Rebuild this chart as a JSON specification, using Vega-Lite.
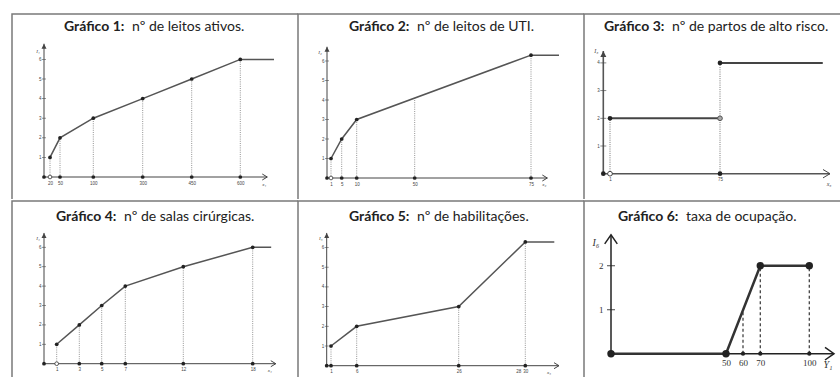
{
"$schema": "https://vega.github.io/schema/vega-lite/v6.json",
"padding": {"left": 11, "top": 13, "right": 0, "bottom": 0},
"background": "white",
"spacing": 0,
"config": {
  "view": {"stroke": "#7a7a7a", "strokeWidth": 1.5},
  "axis": {"domain": false, "ticks": false, "grid": false, "labelFont": "Liberation Sans", "labelFontSize": 4.5, "labelColor": "#444", "labelOverlap": false, "labelFlush": false, "labelPadding": 3},
  "title": {"font": "Lato", "fontSize": 14, "fontWeight": "bold", "color": "#222", "anchor": "start", "frame": "group", "align": "left", "subtitleFont": "Lato", "subtitleFontSize": 14, "subtitleFontWeight": "normal", "subtitleColor": "#222", "subtitlePadding": -13.5}
},
"datasets": {
  "p1": [
    {"k":"ax","x":0,"x2":680,"y":0,"y2":0},{"k":"ax","x":0,"x2":0,"y":0,"y2":6.8},
    {"k":"drop","x":20,"x2":20,"y":0,"y2":1},{"k":"drop","x":50,"x2":50,"y":0,"y2":2},{"k":"drop","x":100,"x2":100,"y":0,"y2":3},{"k":"drop","x":300,"x2":300,"y":0,"y2":4},{"k":"drop","x":450,"x2":450,"y":0,"y2":5},{"k":"drop","x":600,"x2":600,"y":0,"y2":6},
    {"k":"ln","g":1,"x":20,"y":1},{"k":"ln","g":1,"x":50,"y":2},{"k":"ln","g":1,"x":100,"y":3},{"k":"ln","g":1,"x":300,"y":4},{"k":"ln","g":1,"x":450,"y":5},{"k":"ln","g":1,"x":600,"y":6},{"k":"ln","g":1,"x":700,"y":6},
    {"k":"pt","x":20,"y":1},{"k":"pt","x":50,"y":2},{"k":"pt","x":100,"y":3},{"k":"pt","x":300,"y":4},{"k":"pt","x":450,"y":5},{"k":"pt","x":600,"y":6},
    {"k":"ad","x":0,"y":0},{"k":"ad","x":50,"y":0},{"k":"ad","x":100,"y":0},{"k":"ad","x":300,"y":0},{"k":"ad","x":450,"y":0},{"k":"ad","x":600,"y":0},
    {"k":"ao","x":20,"y":0},
    {"k":"yt","x":0,"y":1},{"k":"yt","x":0,"y":2},{"k":"yt","x":0,"y":3},{"k":"yt","x":0,"y":4},{"k":"yt","x":0,"y":5},{"k":"yt","x":0,"y":6},
    {"k":"arx","x":680,"y":0},{"k":"ary","x":0,"y":6.8},
    {"k":"nx","x":680,"y":0,"t":"x₁"},{"k":"ny","x":0,"y":6.8,"t":"I₁"}
  ],
  "p2": [
    {"k":"ax","x":0,"x2":78.5,"y":0,"y2":0},{"k":"ax","x":0,"x2":0,"y":0,"y2":6.73},
    {"k":"drop","x":1,"x2":1,"y":0,"y2":1},{"k":"drop","x":5,"x2":5,"y":0,"y2":2},{"k":"drop","x":10,"x2":10,"y":0,"y2":3},{"k":"drop","x":50,"x2":50,"y":0,"y2":4.1},{"k":"drop","x":75,"x2":75,"y":0,"y2":6.3},
    {"k":"ln","g":1,"x":1,"y":1},{"k":"ln","g":1,"x":5,"y":2},{"k":"ln","g":1,"x":10,"y":3},{"k":"ln","g":1,"x":75,"y":6.3},{"k":"ln","g":1,"x":81,"y":6.3},
    {"k":"pt","x":1,"y":1},{"k":"pt","x":5,"y":2},{"k":"pt","x":10,"y":3},{"k":"pt","x":75,"y":6.3},
    {"k":"ad","x":0,"y":0},{"k":"ad","x":5,"y":0},{"k":"ad","x":10,"y":0},{"k":"ad","x":50,"y":0},{"k":"ad","x":75,"y":0},
    {"k":"ao","x":1,"y":0},
    {"k":"yt","x":0,"y":1},{"k":"yt","x":0,"y":2},{"k":"yt","x":0,"y":3},{"k":"yt","x":0,"y":4},{"k":"yt","x":0,"y":5},{"k":"yt","x":0,"y":6},
    {"k":"arx","x":78.5,"y":0},{"k":"ary","x":0,"y":6.73},
    {"k":"nx","x":78.5,"y":0,"t":"x₂"},{"k":"ny","x":0,"y":6.73,"t":"I₂"}
  ],
  "p3": [
    {"k":"ax","x":0,"x2":145,"y":0,"y2":0},{"k":"ax","x":0,"x2":0,"y":0,"y2":4.43},
    {"k":"drop","x":1,"x2":1,"y":0,"y2":2},{"k":"drop","x":75,"x2":75,"y":0,"y2":4},
    {"k":"ln","g":1,"x":1,"y":2},{"k":"ln","g":1,"x":75,"y":2},{"k":"ln","g":2,"x":75,"y":4},{"k":"ln","g":2,"x":140.4,"y":4},
    {"k":"pt","x":1,"y":2},{"k":"pt","x":75,"y":4},
    {"k":"ag","x":75,"y":2},
    {"k":"ad","x":0,"y":0},{"k":"ad","x":75,"y":0},
    {"k":"ao","x":1,"y":0},
    {"k":"yt","x":0,"y":1},{"k":"yt","x":0,"y":2},{"k":"yt","x":0,"y":3},{"k":"yt","x":0,"y":4},
    {"k":"arx","x":145,"y":0},{"k":"ary","x":0,"y":4.43},
    {"k":"nx","x":145,"y":0,"t":"x₃"},{"k":"ny","x":0,"y":4.43,"t":"I₃"}
  ],
  "p4": [
    {"k":"ax","x":0,"x2":20,"y":0,"y2":0},{"k":"ax","x":0,"x2":0,"y":0,"y2":6.74},
    {"k":"drop","x":1,"x2":1,"y":0,"y2":1},{"k":"drop","x":3,"x2":3,"y":0,"y2":2},{"k":"drop","x":5,"x2":5,"y":0,"y2":3},{"k":"drop","x":7,"x2":7,"y":0,"y2":4},{"k":"drop","x":12,"x2":12,"y":0,"y2":5},{"k":"drop","x":18,"x2":18,"y":0,"y2":6},
    {"k":"ln","g":1,"x":1,"y":1},{"k":"ln","g":1,"x":3,"y":2},{"k":"ln","g":1,"x":5,"y":3},{"k":"ln","g":1,"x":7,"y":4},{"k":"ln","g":1,"x":12,"y":5},{"k":"ln","g":1,"x":18,"y":6},{"k":"ln","g":1,"x":19.6,"y":6},
    {"k":"pt","x":1,"y":1},{"k":"pt","x":3,"y":2},{"k":"pt","x":5,"y":3},{"k":"pt","x":7,"y":4},{"k":"pt","x":12,"y":5},{"k":"pt","x":18,"y":6},
    {"k":"ad","x":0,"y":0},{"k":"ad","x":3,"y":0},{"k":"ad","x":5,"y":0},{"k":"ad","x":7,"y":0},{"k":"ad","x":12,"y":0},{"k":"ad","x":18,"y":0},
    {"k":"ao","x":1,"y":0},
    {"k":"yt","x":0,"y":1},{"k":"yt","x":0,"y":2},{"k":"yt","x":0,"y":3},{"k":"yt","x":0,"y":4},{"k":"yt","x":0,"y":5},{"k":"yt","x":0,"y":6},
    {"k":"arx","x":20,"y":0},{"k":"ary","x":0,"y":6.74},
    {"k":"nx","x":20,"y":0,"t":"x₄"},{"k":"ny","x":0,"y":6.74,"t":"I₄"}
  ],
  "p5": [
    {"k":"ax","x":0,"x2":32,"y":0,"y2":0},{"k":"ax","x":0,"x2":0,"y":0,"y2":6.74},
    {"k":"drop","x":1,"x2":1,"y":0,"y2":1},{"k":"drop","x":6,"x2":6,"y":0,"y2":2},{"k":"drop","x":26,"x2":26,"y":0,"y2":3},{"k":"drop","x":30,"x2":30,"y":0,"y2":6.28},
    {"k":"ln","g":1,"x":1,"y":1},{"k":"ln","g":1,"x":6,"y":2},{"k":"ln","g":1,"x":26,"y":3},{"k":"ln","g":1,"x":30,"y":6.28},{"k":"ln","g":1,"x":31,"y":6.28},
    {"k":"pt","x":1,"y":1},{"k":"pt","x":6,"y":2},{"k":"pt","x":26,"y":3},{"k":"pt","x":30,"y":6.28},
    {"k":"ad","x":0,"y":0},{"k":"ad","x":1,"y":0},{"k":"ad","x":6,"y":0},{"k":"ad","x":26,"y":0},{"k":"ad","x":30,"y":0},
    {"k":"yt","x":0,"y":1},{"k":"yt","x":0,"y":2},{"k":"yt","x":0,"y":3},{"k":"yt","x":0,"y":4},{"k":"yt","x":0,"y":5},{"k":"yt","x":0,"y":6},
    {"k":"arx","x":32,"y":0},{"k":"ary","x":0,"y":6.74},
    {"k":"nx","x":32,"y":0,"t":"x₅"},{"k":"ny","x":0,"y":6.74,"t":"I₅"}
  ],
  "p6": [
    {"k":"ax","x":0,"x2":115,"y":0,"y2":0},{"k":"ax","x":0,"x2":0,"y":0,"y2":2.7},
    {"k":"drop","x":60,"x2":60,"y":0,"y2":1},{"k":"drop","x":70,"x2":70,"y":0,"y2":2},{"k":"drop","x":100,"x2":100,"y":0,"y2":2},
    {"k":"ln","g":1,"x":0,"y":0},{"k":"ln","g":1,"x":50,"y":0},{"k":"ln","g":1,"x":70,"y":2},{"k":"ln","g":1,"x":100,"y":2},
    {"k":"pt","x":0,"y":0},{"k":"pt","x":50,"y":0},{"k":"pt","x":70,"y":2},{"k":"pt","x":100,"y":2},
    {"k":"ad","x":60,"y":0},{"k":"ad","x":70,"y":0},{"k":"ad","x":100,"y":0},
    {"k":"yt","x":0,"y":1},{"k":"yt","x":0,"y":2},
    {"k":"arx","x":115,"y":0},{"k":"ary","x":0,"y":2.7},
    {"k":"nx","x":115,"y":0,"t":"Y₁"},{"k":"ny","x":0,"y":2.7,"t":"I₆"}
  ]
},
"vconcat": [
{"hconcat": [
{
  "width": 286, "height": 185,
  "view": {"strokeDash": [286, 471, 185]},
  "title": {"text": "Gráfico 1:", "subtitle": "\u200b\u00a0\u00a0\u00a0\u00a0\u00a0\u00a0\u00a0\u00a0\u00a0\u00a0\u00a0\u00a0\u00a0\u00a0\u00a0\u00a0\u00a0\u00a0\u00a0nº de leitos ativos.", "dx": 52, "offset": -20},
  "data": {"name": "p1"},
  "encoding": {
    "x": {"field": "x", "type": "quantitative", "scale": {"domain": [0,20,50,100,300,450,600,700], "range": [32,38,48,81.3,130.7,179.7,228.3,262], "nice": false, "zero": false}, "axis": {"title": null, "values": [20,50,100,300,450,600], "offset": -22}},
    "y": {"field": "y", "type": "quantitative", "scale": {"domain": [0,7], "range": [163,25.8], "nice": false, "zero": false}, "axis": {"title": null, "values": [1,2,3,4,5,6], "offset": -32}}
  },
  "layer": [
    {"transform": [{"filter": "datum.k=='drop'"}], "mark": {"type": "rule", "color": "#777", "strokeWidth": 0.8, "strokeDash": [1,1.2]}, "encoding": {"x2": {"field": "x2"}, "y2": {"field": "y2"}}},
    {"transform": [{"filter": "datum.k=='ax'"}], "mark": {"type": "rule", "color": "#444", "strokeWidth": 1}, "encoding": {"x2": {"field": "x2"}, "y2": {"field": "y2"}}},
    {"transform": [{"filter": "datum.k=='yt'"}], "mark": {"type": "tick", "orient": "horizontal", "size": 4, "thickness": 0.8, "color": "#444"}},
    {"transform": [{"filter": "datum.k=='ln'"}], "mark": {"type": "line", "color": "#555", "strokeWidth": 1.5}, "encoding": {"detail": {"field": "g"}}},
    {"transform": [{"filter": "datum.k=='pt'||datum.k=='ad'"}], "mark": {"type": "circle", "size": 14, "color": "#222", "opacity": 1}},
    {"transform": [{"filter": "datum.k=='ao'"}], "mark": {"type": "point", "shape": "circle", "size": 14, "filled": true, "fill": "#fff", "stroke": "#333", "strokeWidth": 0.8, "opacity": 1}},
    {"transform": [{"filter": "datum.k=='arx'"}], "mark": {"type": "point", "shape": "M-1,-0.6L0,0L-1,0.6", "size": 100, "filled": false, "color": "#444", "strokeWidth": 1, "opacity": 1}},
    {"transform": [{"filter": "datum.k=='ary'"}], "mark": {"type": "point", "shape": "M-0.5,1L0,0L0.5,1Z", "size": 100, "filled": true, "color": "#444", "opacity": 1}},
    {"transform": [{"filter": "datum.k=='nx'"}], "mark": {"type": "text", "dx": -3, "dy": 7, "fontSize": 5, "font": "Liberation Serif", "fontStyle": "italic", "color": "#444"}, "encoding": {"text": {"field": "t"}}},
    {"transform": [{"filter": "datum.k=='ny'"}], "mark": {"type": "text", "dx": -6, "dy": 7, "fontSize": 5, "font": "Liberation Serif", "fontStyle": "italic", "color": "#444"}, "encoding": {"text": {"field": "t"}}}
  ]
},
{
  "width": 286, "height": 185,
  "view": {"strokeDash": [286, 471, 185]},
  "title": {"text": "Gráfico 2:", "subtitle": "\u200b\u00a0\u00a0\u00a0\u00a0\u00a0\u00a0\u00a0\u00a0\u00a0\u00a0\u00a0\u00a0\u00a0\u00a0\u00a0\u00a0\u00a0\u00a0\u00a0nº de leitos de UTI.", "dx": 51, "offset": -20},
  "data": {"name": "p2"},
  "encoding": {
    "x": {"field": "x", "type": "quantitative", "scale": {"domain": [0,1,5,10,50,75,81], "range": [29,33,43.7,58.7,116.7,233,261], "nice": false, "zero": false}, "axis": {"title": null, "values": [1,5,10,50,75], "offset": -21}},
    "y": {"field": "y", "type": "quantitative", "scale": {"domain": [0,7], "range": [164,27.5], "nice": false, "zero": false}, "axis": {"title": null, "values": [1,2,3,4,5,6], "offset": -29}}
  },
  "layer": [
    {"transform": [{"filter": "datum.k=='drop'"}], "mark": {"type": "rule", "color": "#777", "strokeWidth": 0.8, "strokeDash": [1,1.2]}, "encoding": {"x2": {"field": "x2"}, "y2": {"field": "y2"}}},
    {"transform": [{"filter": "datum.k=='ax'"}], "mark": {"type": "rule", "color": "#444", "strokeWidth": 1}, "encoding": {"x2": {"field": "x2"}, "y2": {"field": "y2"}}},
    {"transform": [{"filter": "datum.k=='yt'"}], "mark": {"type": "tick", "orient": "horizontal", "size": 4, "thickness": 0.8, "color": "#444"}},
    {"transform": [{"filter": "datum.k=='ln'"}], "mark": {"type": "line", "color": "#555", "strokeWidth": 1.5}, "encoding": {"detail": {"field": "g"}}},
    {"transform": [{"filter": "datum.k=='pt'||datum.k=='ad'"}], "mark": {"type": "circle", "size": 14, "color": "#222", "opacity": 1}},
    {"transform": [{"filter": "datum.k=='ao'"}], "mark": {"type": "point", "shape": "circle", "size": 14, "filled": true, "fill": "#fff", "stroke": "#333", "strokeWidth": 0.8, "opacity": 1}},
    {"transform": [{"filter": "datum.k=='arx'"}], "mark": {"type": "point", "shape": "M-1,-0.6L0,0L-1,0.6", "size": 100, "filled": false, "color": "#444", "strokeWidth": 1, "opacity": 1}},
    {"transform": [{"filter": "datum.k=='ary'"}], "mark": {"type": "point", "shape": "M-0.5,1L0,0L0.5,1Z", "size": 100, "filled": true, "color": "#444", "opacity": 1}},
    {"transform": [{"filter": "datum.k=='nx'"}], "mark": {"type": "text", "dx": -3, "dy": 6, "fontSize": 5, "font": "Liberation Serif", "fontStyle": "italic", "color": "#444"}, "encoding": {"text": {"field": "t"}}},
    {"transform": [{"filter": "datum.k=='ny'"}], "mark": {"type": "text", "dx": -7, "dy": 5, "fontSize": 5, "font": "Liberation Serif", "fontStyle": "italic", "color": "#444"}, "encoding": {"text": {"field": "t"}}}
  ]
},
{
  "width": 256, "height": 185,
  "view": {"strokeDash": [256, 441, 185]},
  "title": {"text": "Gráfico 3:", "subtitle": "\u200b\u00a0\u00a0\u00a0\u00a0\u00a0\u00a0\u00a0\u00a0\u00a0\u00a0\u00a0\u00a0\u00a0\u00a0\u00a0\u00a0\u00a0\u00a0\u00a0nº de partos de alto risco.", "dx": 20, "offset": -20},
  "data": {"name": "p3"},
  "encoding": {
    "x": {"field": "x", "type": "quantitative", "scale": {"domain": [0,1,75,145], "range": [19.3,26,136,246], "nice": false, "zero": false}, "axis": {"title": null, "values": [1,75], "offset": -25.3}},
    "y": {"field": "y", "type": "quantitative", "scale": {"domain": [0,5], "range": [159.7,21.2], "nice": false, "zero": false}, "axis": {"title": null, "values": [1,2,3,4], "offset": -19.3, "labelPadding": 4}}
  },
  "layer": [
    {"transform": [{"filter": "datum.k=='drop'"}], "mark": {"type": "rule", "color": "#666", "strokeWidth": 0.9, "strokeDash": [1,1.2]}, "encoding": {"x2": {"field": "x2"}, "y2": {"field": "y2"}}},
    {"transform": [{"filter": "datum.k=='ax'"}], "mark": {"type": "rule", "color": "#555", "strokeWidth": 1.6}, "encoding": {"x2": {"field": "x2"}, "y2": {"field": "y2"}}},
    {"transform": [{"filter": "datum.k=='yt'"}], "mark": {"type": "tick", "orient": "horizontal", "size": 6, "thickness": 0.9, "color": "#444"}},
    {"transform": [{"filter": "datum.k=='ln'"}], "mark": {"type": "line", "color": "#444", "strokeWidth": 2}, "encoding": {"detail": {"field": "g"}}},
    {"transform": [{"filter": "datum.k=='pt'||datum.k=='ad'"}], "mark": {"type": "circle", "size": 22, "color": "#222", "opacity": 1}},
    {"transform": [{"filter": "datum.k=='ag'"}], "mark": {"type": "point", "shape": "circle", "size": 22, "filled": true, "fill": "#aaa", "stroke": "#555", "strokeWidth": 1, "opacity": 1}},
    {"transform": [{"filter": "datum.k=='ao'"}], "mark": {"type": "point", "shape": "circle", "size": 22, "filled": true, "fill": "#fff", "stroke": "#333", "strokeWidth": 0.9, "opacity": 1}},
    {"transform": [{"filter": "datum.k=='arx'"}], "mark": {"type": "point", "shape": "M-1,-0.6L0,0L-1,0.6", "size": 196, "filled": false, "color": "#444", "strokeWidth": 1, "opacity": 1}},
    {"transform": [{"filter": "datum.k=='ary'"}], "mark": {"type": "point", "shape": "M-0.5,1L0,0L0.5,1Z", "size": 144, "filled": true, "color": "#444", "opacity": 1}},
    {"transform": [{"filter": "datum.k=='nx'"}], "mark": {"type": "text", "dx": -1, "dy": 10, "fontSize": 6, "font": "Liberation Serif", "fontStyle": "italic", "color": "#444"}, "encoding": {"text": {"field": "t"}}},
    {"transform": [{"filter": "datum.k=='ny'"}], "mark": {"type": "text", "dx": -7, "dy": 0, "fontSize": 6, "font": "Liberation Serif", "fontStyle": "italic", "color": "#444"}, "encoding": {"text": {"field": "t"}}}
  ]
}
], "spacing": 0, "bounds": "flush"},
{"hconcat": [
{
  "width": 286, "height": 178,
  "view": {"strokeDash": [286, 464, 178]},
  "title": {"text": "Gráfico 4:", "subtitle": "\u200b\u00a0\u00a0\u00a0\u00a0\u00a0\u00a0\u00a0\u00a0\u00a0\u00a0\u00a0\u00a0\u00a0\u00a0\u00a0\u00a0\u00a0\u00a0\u00a0nº de salas cirúrgicas.", "dx": 44, "offset": -23},
  "data": {"name": "p4"},
  "encoding": {
    "x": {"field": "x", "type": "quantitative", "scale": {"domain": [0,1,3,5,7,12,18,20], "range": [32,44.7,67.3,89.7,113.3,171.3,240.7,263.8], "nice": false, "zero": false}, "axis": {"title": null, "values": [1,3,5,7,12,18], "offset": -15.3}},
    "y": {"field": "y", "type": "quantitative", "scale": {"domain": [0,7], "range": [162.7,26.9], "nice": false, "zero": false}, "axis": {"title": null, "values": [1,2,3,4,5,6], "offset": -32}}
  },
  "layer": [
    {"transform": [{"filter": "datum.k=='drop'"}], "mark": {"type": "rule", "color": "#777", "strokeWidth": 0.8, "strokeDash": [1,1.2]}, "encoding": {"x2": {"field": "x2"}, "y2": {"field": "y2"}}},
    {"transform": [{"filter": "datum.k=='ax'"}], "mark": {"type": "rule", "color": "#444", "strokeWidth": 1}, "encoding": {"x2": {"field": "x2"}, "y2": {"field": "y2"}}},
    {"transform": [{"filter": "datum.k=='yt'"}], "mark": {"type": "tick", "orient": "horizontal", "size": 4, "thickness": 0.8, "color": "#444"}},
    {"transform": [{"filter": "datum.k=='ln'"}], "mark": {"type": "line", "color": "#555", "strokeWidth": 1.5}, "encoding": {"detail": {"field": "g"}}},
    {"transform": [{"filter": "datum.k=='pt'||datum.k=='ad'"}], "mark": {"type": "circle", "size": 14, "color": "#222", "opacity": 1}},
    {"transform": [{"filter": "datum.k=='ao'"}], "mark": {"type": "point", "shape": "circle", "size": 14, "filled": true, "fill": "#fff", "stroke": "#333", "strokeWidth": 0.8, "opacity": 1}},
    {"transform": [{"filter": "datum.k=='arx'"}], "mark": {"type": "point", "shape": "M-1,-0.6L0,0L-1,0.6", "size": 100, "filled": false, "color": "#444", "strokeWidth": 1, "opacity": 1}},
    {"transform": [{"filter": "datum.k=='ary'"}], "mark": {"type": "point", "shape": "M-0.5,1L0,0L0.5,1Z", "size": 100, "filled": true, "color": "#444", "opacity": 1}},
    {"transform": [{"filter": "datum.k=='nx'"}], "mark": {"type": "text", "dx": -6, "dy": 6, "fontSize": 5, "font": "Liberation Serif", "fontStyle": "italic", "color": "#444"}, "encoding": {"text": {"field": "t"}}},
    {"transform": [{"filter": "datum.k=='ny'"}], "mark": {"type": "text", "dx": -6, "dy": 5, "fontSize": 5, "font": "Liberation Serif", "fontStyle": "italic", "color": "#444"}, "encoding": {"text": {"field": "t"}}}
  ]
},
{
  "width": 286, "height": 178,
  "view": {"strokeDash": [286, 464, 178]},
  "title": {"text": "Gráfico 5:", "subtitle": "\u200b\u00a0\u00a0\u00a0\u00a0\u00a0\u00a0\u00a0\u00a0\u00a0\u00a0\u00a0\u00a0\u00a0\u00a0\u00a0\u00a0\u00a0\u00a0\u00a0nº de habilitações.", "dx": 51, "offset": -23},
  "data": {"name": "p5"},
  "encoding": {
    "x": {"field": "x", "type": "quantitative", "scale": {"domain": [0,1,6,26,28,30,31,32], "range": [28.7,33,58.7,160.7,220.3,227.3,256.3,261], "nice": false, "zero": false}, "axis": {"title": null, "values": [1,6,26,28,30], "offset": -13.3}},
    "y": {"field": "y", "type": "quantitative", "scale": {"domain": [0,7], "range": [164.7,26.8], "nice": false, "zero": false}, "axis": {"title": null, "values": [1,2,3,4,5,6], "offset": -28.7}}
  },
  "layer": [
    {"transform": [{"filter": "datum.k=='drop'"}], "mark": {"type": "rule", "color": "#777", "strokeWidth": 0.8, "strokeDash": [1,1.2]}, "encoding": {"x2": {"field": "x2"}, "y2": {"field": "y2"}}},
    {"transform": [{"filter": "datum.k=='ax'"}], "mark": {"type": "rule", "color": "#444", "strokeWidth": 1}, "encoding": {"x2": {"field": "x2"}, "y2": {"field": "y2"}}},
    {"transform": [{"filter": "datum.k=='yt'"}], "mark": {"type": "tick", "orient": "horizontal", "size": 4, "thickness": 0.8, "color": "#444"}},
    {"transform": [{"filter": "datum.k=='ln'"}], "mark": {"type": "line", "color": "#555", "strokeWidth": 1.5}, "encoding": {"detail": {"field": "g"}}},
    {"transform": [{"filter": "datum.k=='pt'||datum.k=='ad'"}], "mark": {"type": "circle", "size": 14, "color": "#222", "opacity": 1}},
    {"transform": [{"filter": "datum.k=='arx'"}], "mark": {"type": "point", "shape": "M-1,-0.6L0,0L-1,0.6", "size": 100, "filled": false, "color": "#444", "strokeWidth": 1, "opacity": 1}},
    {"transform": [{"filter": "datum.k=='ary'"}], "mark": {"type": "point", "shape": "M-0.5,1L0,0L0.5,1Z", "size": 100, "filled": true, "color": "#444", "opacity": 1}},
    {"transform": [{"filter": "datum.k=='nx'"}], "mark": {"type": "text", "dx": -10, "dy": 6, "fontSize": 5, "font": "Liberation Serif", "fontStyle": "italic", "color": "#444"}, "encoding": {"text": {"field": "t"}}},
    {"transform": [{"filter": "datum.k=='ny'"}], "mark": {"type": "text", "dx": -6, "dy": 5, "fontSize": 5, "font": "Liberation Serif", "fontStyle": "italic", "color": "#444"}, "encoding": {"text": {"field": "t"}}}
  ]
},
{
  "width": 256, "height": 178,
  "view": {"strokeDash": [256, 434, 178]},
  "title": {"text": "Gráfico 6:", "subtitle": "\u200b\u00a0\u00a0\u00a0\u00a0\u00a0\u00a0\u00a0\u00a0\u00a0\u00a0\u00a0\u00a0\u00a0\u00a0\u00a0\u00a0\u00a0\u00a0\u00a0taxa de ocupação.", "dx": 34, "offset": -23},
  "data": {"name": "p6"},
  "encoding": {
    "x": {"field": "x", "type": "quantitative", "scale": {"domain": [0,50,60,70,100,115], "range": [27,142,159,176.3,225.3,250], "nice": false, "zero": false}, "axis": {"title": null, "values": [50,60,70,100], "offset": -25.3, "labelFont": "Liberation Serif", "labelFontSize": 9, "labelColor": "#333", "labelPadding": 5}},
    "y": {"field": "y", "type": "quantitative", "scale": {"domain": [0,3], "range": [152.7,20.7], "nice": false, "zero": false}, "axis": {"title": null, "values": [1,2], "offset": -27, "labelFont": "Liberation Serif", "labelFontSize": 9, "labelColor": "#333", "labelPadding": 8}}
  },
  "layer": [
    {"transform": [{"filter": "datum.k=='drop'"}], "mark": {"type": "rule", "color": "#444", "strokeWidth": 1.3, "strokeDash": [3,2.5]}, "encoding": {"x2": {"field": "x2"}, "y2": {"field": "y2"}}},
    {"transform": [{"filter": "datum.k=='ax'"}], "mark": {"type": "rule", "color": "#222", "strokeWidth": 1.5}, "encoding": {"x2": {"field": "x2"}, "y2": {"field": "y2"}}},
    {"transform": [{"filter": "datum.k=='yt'"}], "mark": {"type": "tick", "orient": "horizontal", "size": 8, "thickness": 1.2, "color": "#222"}},
    {"transform": [{"filter": "datum.k=='ln'"}], "mark": {"type": "line", "color": "#333", "strokeWidth": 2.5}, "encoding": {"detail": {"field": "g"}}},
    {"transform": [{"filter": "datum.k=='pt'"}], "mark": {"type": "circle", "size": 55, "color": "#222", "opacity": 1}},
    {"transform": [{"filter": "datum.k=='ad'"}], "mark": {"type": "circle", "size": 18, "color": "#222", "opacity": 1}},
    {"transform": [{"filter": "datum.k=='arx'"}], "mark": {"type": "point", "shape": "M-1,-0.7L0,0L-1,0.7", "size": 324, "filled": false, "color": "#222", "strokeWidth": 1.5, "opacity": 1}},
    {"transform": [{"filter": "datum.k=='ary'"}], "mark": {"type": "point", "shape": "M-0.7,1L0,0L0.7,1", "size": 324, "filled": false, "color": "#222", "strokeWidth": 1.5, "opacity": 1}},
    {"transform": [{"filter": "datum.k=='nx'"}], "mark": {"type": "text", "dx": -6, "dy": 11, "fontSize": 10, "font": "Liberation Serif", "fontStyle": "italic", "color": "#333"}, "encoding": {"text": {"field": "t"}}},
    {"transform": [{"filter": "datum.k=='ny'"}], "mark": {"type": "text", "dx": -15, "dy": 8, "fontSize": 10, "font": "Liberation Serif", "fontStyle": "italic", "color": "#333"}, "encoding": {"text": {"field": "t"}}}
  ]
}
], "spacing": 0, "bounds": "flush"}
]
}
